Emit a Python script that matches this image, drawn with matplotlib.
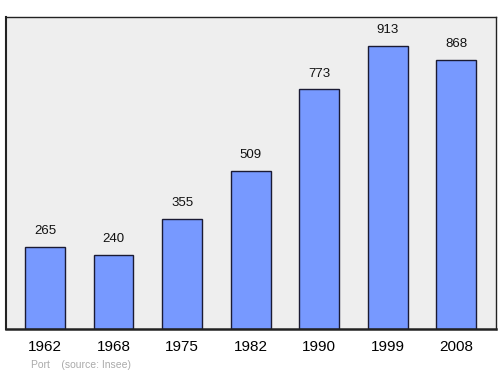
import matplotlib
matplotlib.use("Agg")
import matplotlib.pyplot as plt

plt.rcParams["font.family"] = ["Liberation Sans", "DejaVu Sans"]

years = ["1962", "1968", "1975", "1982", "1990", "1999", "2008"]
population = [265, 240, 355, 509, 773, 913, 868]
caption = "Port    (source: Insee)"

fig = plt.figure(figsize=(5.0, 3.74), dpi=100)
ax = fig.add_axes([6/500, 1 - 329/374, 490/500, 312/374])
ax.set_facecolor("#eeeeee")

x = list(range(len(years)))
ax.bar(x, population, width=0.58, color="#7799ff", edgecolor="#1a1a33", linewidth=1.0, zorder=2)
for xi, v in zip(x, population):
    ax.annotate(str(v), (xi, v), xytext=(0, 7), textcoords="offset points",
                ha="center", va="bottom", fontsize=9.5, color="#111111")

ax.set_xlim(-0.57, 6.58)
ax.set_ylim(0, 1006)
ax.set_xticks(x)
ax.set_xticklabels(years, fontsize=11)
ax.tick_params(axis="x", length=0, pad=8)
ax.set_yticks([])
for s in ax.spines.values():
    s.set_color("#222222")
    s.set_linewidth(1.0)
ax.spines["bottom"].set_linewidth(1.8)
ax.spines["left"].set_linewidth(1.5)

fig.text(31/500, 1 - 365/374, caption, fontsize=7.5, color="#aaaaaa", ha="left", va="center")

fig.savefig("out.png", dpi=100)
